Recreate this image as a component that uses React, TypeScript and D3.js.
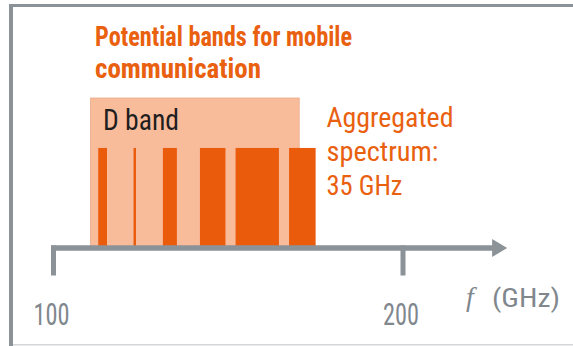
import React from "react";
import * as d3 from "d3";

const titleLines = ["Potential bands for mobile", "communication"];
const noteLines = ["Aggregated", "spectrum:", "35 GHz"];
const dBandLabel = "D band";
const dBand = [110.6, 170.3];
const bandStarts = [112.8, 122.9, 131.3, 141.9, 152.1, 167.4];
const bandEnds = [115.3, 123.6, 135.3, 149.2, 164.5, 175.0];
const tickValues = [100, 200];
const axisLabel = "(GHz)";

const W = 573;
const H = 346;
const ORANGE = "#e9600f";
const BAR = "#ea5b0c";
const LIGHT = "#f9bc9b";
const GRAY = "#8b9298";
const TEXTGRAY = "#80878d";
const FONT = "'Liberation Sans Narrow', 'Roboto Condensed', Roboto, 'Liberation Sans', sans-serif";

export default function App() {
  const x = d3.scaleLinear().domain([100, 200]).range([53.5, 403]);
  const y = d3.scaleLinear().domain([0, 1]).range([248, 98]);
  const axisY = y(0);
  const barTop = y(0.667);
  const axisEnd = x(229.8);
  const titleWidths = [257, 166];
  const noteWidths = [127, 112, 76];

  return (
    <svg
      width={W}
      height={H}
      style={{ position: "absolute", left: 0, top: 0, background: "#fff" }}
    >
      {/* frame */}
      <rect x={9} y={4} width={W - 9} height={3} fill={GRAY} />
      <rect x={9} y={4} width={4} height={H - 4} fill={GRAY} />
      <rect x={13} y={344} width={W - 13} height={1.5} fill="#d4d6d8" />

      {/* title */}
      {titleLines.map((t, i) => (
        <text
          key={t}
          x={95}
          y={45.5 + i * 32}
          fill={ORANGE}
          fontFamily={FONT}
          fontWeight="bold"
          fontSize={28.5}
          textLength={titleWidths[i]}
          lengthAdjust="spacingAndGlyphs"
        >
          {t}
        </text>
      ))}

      {/* D band */}
      <rect
        x={x(dBand[0])}
        y={y(1)}
        width={x(dBand[1]) - x(dBand[0])}
        height={axisY - y(1)}
        fill={LIGHT}
        stroke="#e9ab8b"
        strokeWidth={0.8}
      />
      <text
        x={103}
        y={129.5}
        fill="#1e1e1e"
        fontFamily={FONT}
        fontSize={29}
        textLength={76}
        lengthAdjust="spacingAndGlyphs"
      >
        {dBandLabel}
      </text>

      {/* bands */}
      {bandStarts.map((s, i) => (
        <rect
          key={i}
          x={x(s)}
          y={barTop}
          width={x(bandEnds[i]) - x(s)}
          height={axisY - barTop - 1}
          fill={BAR}
        />
      ))}

      {/* note */}
      {noteLines.map((t, i) => (
        <text
          key={t}
          x={326.5}
          y={127 + i * 34}
          fill={ORANGE}
          fontFamily={FONT}
          fontSize={28.5}
          textLength={noteWidths[i]}
          lengthAdjust="spacingAndGlyphs"
        >
          {t}
        </text>
      ))}

      {/* axis */}
      <line x1={51} x2={axisEnd - 14} y1={axisY} y2={axisY} stroke={GRAY} strokeWidth={5.5} />
      <path
        d={`M${axisEnd - 15},${axisY - 9} L${axisEnd},${axisY} L${axisEnd - 15},${axisY + 9} Z`}
        fill={GRAY}
      />
      {tickValues.map((v) => (
        <g key={v}>
          <rect x={x(v) - 2.5} y={axisY - 2.5} width={5} height={30} fill={GRAY} />
          <text
            x={x(v) - 2}
            y={325}
            textAnchor="middle"
            fill={TEXTGRAY}
            fontFamily={FONT}
            fontSize={31}
            textLength={36}
            lengthAdjust="spacingAndGlyphs"
          >
            {v}
          </text>
        </g>
      ))}
      <text
        x={466}
        y={306}
        fill={TEXTGRAY}
        fontFamily="'Liberation Serif', 'DejaVu Serif', serif"
        fontStyle="italic"
        fontSize={28}
      >
        f
      </text>
      <text
        x={492}
        y={307}
        fill={TEXTGRAY}
        fontFamily={FONT}
        fontSize={26}
        textLength={68}
        lengthAdjust="spacingAndGlyphs"
      >
        {axisLabel}
      </text>
    </svg>
  );
}
